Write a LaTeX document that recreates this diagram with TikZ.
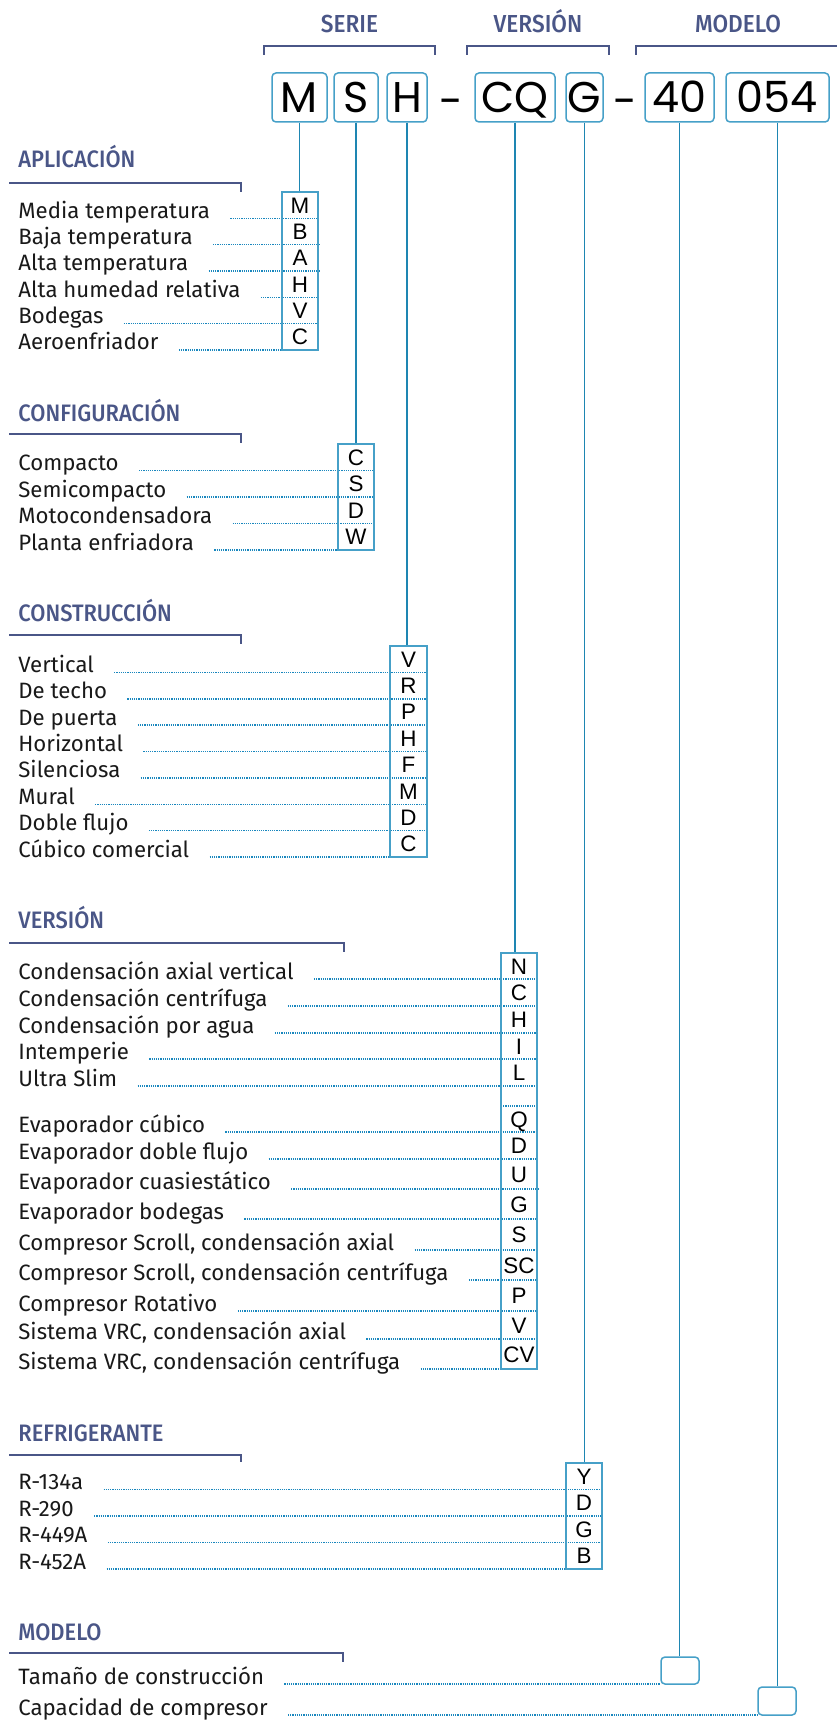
\documentclass[tikz,border=0pt]{standalone}
\usepackage{fontspec}
\usetikzlibrary{fit}
\setmainfont{Fira Sans}
\newfontfamily\ttlfont{Fira Sans Medium}[FakeStretch=0.92]
\newfontfamily\itmfont{Fira Sans}
\newfontfamily\letfont{Liberation Sans}
\newfontfamily\bigfont{Poppins}
\definecolor{ttlc}{RGB}{74,86,135}
\definecolor{connc}{RGB}{30,134,178}
\definecolor{boxc}{RGB}{70,160,200}
\definecolor{dotc}{RGB}{25,135,190}
\definecolor{txtc}{RGB}{25,25,25}
\pgfdeclarelayer{back}
\pgfdeclarelayer{bg}
\pgfsetlayers{back,bg,main}
\tikzset{
  toptl/.style={font=\ttlfont\fontsize{12.3pt}{14pt}\selectfont, text=ttlc, inner sep=0pt, anchor=base},
  ttl/.style={font=\ttlfont\fontsize{11.9pt}{13pt}\selectfont, text=ttlc, inner sep=0pt, anchor=base west},
  itm/.style={font=\itmfont\fontsize{11.1pt}{12pt}\selectfont, text=txtc, inner sep=0pt, anchor=base west},
  ltr/.style={font=\letfont\fontsize{11.2pt}{12pt}\selectfont, inner sep=0pt, text height=8pt, text depth=0pt},
  big/.style={draw=boxc, line width=0.75pt, rounded corners=2pt, font=\bigfont\fontsize{21.5pt}{24pt}\selectfont, minimum height=24.5pt, inner sep=0pt, text height=15pt, text depth=0pt},
  dashn/.style={font=\bigfont\fontsize{21.5pt}{24pt}\selectfont, inner sep=0pt, anchor=base},
  sbox/.style={draw=boxc, line width=0.75pt, inner sep=0pt},
  mbox/.style={draw=boxc, line width=0.75pt, inner sep=0pt, rounded corners=2pt},
  conn/.style={draw=connc, line width=0.75pt},
  dots/.style={draw=dotc, line width=0.7pt, dash pattern=on 0.6pt off 0.5pt},
  uline/.style={draw=ttlc, line width=1pt},
}
\begin{document}
\begin{tikzpicture}[x=0.5pt,y=-0.5pt]
\begin{pgfonlayer}{back}
\fill[white] (0,0) rectangle (837,1722);
\end{pgfonlayer}
\useasboundingbox (0,0) rectangle (837,1722);

% ---------- top code ----------
\node[toptl] (tSerie) at (349.5,32.5) {SERIE};
\node[toptl] (tVer) at (538,32.5) {VERSIÓN};
\node[toptl] (tMod) at (738,32.5) {MODELO};
\draw[uline] (264,55) -- (264,46.5) -- (435,46.5) -- (435,55);
\draw[uline] (467,55) -- (467,46.5) -- (609,46.5) -- (609,55);
\draw[uline] (636,55) -- (636,46.5) -- (837,46.5);

\node[big, minimum width=27.5pt] (kM) at (299.5,97.5) {M};
\node[big, minimum width=22pt] (kS) at (356,97.5) {S};
\node[big, minimum width=20pt] (kH) at (407,97.5) {H};
\node[dashn] (d1) at (451,117) {-};
\node[big, minimum width=40pt] (kCQ) at (515,97.5) {CQ};
\node[big, minimum width=18.5pt] (kG) at (584.5,97.5) {G};
\node[dashn] (d2) at (625,117) {-};
\node[big, minimum width=34.5pt] (k40) at (679.5,97.5) {40};
\node[big, minimum width=51.5pt] (k054) at (777.5,97.5) {054};

% ---------- APLICACION ----------
\node[ttl] (sA) at (18,168) {APLICACIÓN};
\draw[uline] (9,183) -- (241,183) -- (241,192);
\coordinate (a1) at (282,192); \coordinate (a2) at (318,350);
\node[sbox, fit=(a1)(a2)] (bA) {};
\foreach \t/\l/\a/\b [count=\i] in {Media temperatura/M/192/218.3, Baja temperatura/B/218.3/244.7, Alta temperatura/A/244.7/271, Alta humedad relativa/H/271/297.3, Bodegas/V/297.3/323.7, Aeroenfriador/C/323.7/350}{
  \node[itm] (A\i) at (18,\b) {\t};
  \node[ltr] (AL\i) at (300,{(\a+\b)/2}) {\l};
  \begin{pgfonlayer}{bg}\draw[dots] ([xshift=10pt]A\i.base east) -- (bA.east |- A\i.base);\end{pgfonlayer}
}
\draw[conn] (kM.south) -- (kM.south |- bA.north);

% ---------- CONFIGURACION ----------
\node[ttl] (sB) at (18,421) {CONFIGURACIÓN};
\draw[uline] (9,434) -- (241,434) -- (241,443);
\coordinate (b1) at (338,444); \coordinate (b2) at (374,550);
\node[sbox, fit=(b1)(b2)] (bB) {};
\foreach \t/\l/\a/\b [count=\i] in {Compacto/C/444/470.5, Semicompacto/S/470.5/497, Motocondensadora/D/497/523.5, Planta enfriadora/W/523.5/550}{
  \node[itm] (B\i) at (18,\b) {\t};
  \node[ltr] (BL\i) at (356,{(\a+\b)/2}) {\l};
  \begin{pgfonlayer}{bg}\draw[dots] ([xshift=10pt]B\i.base east) -- (bB.east |- B\i.base);\end{pgfonlayer}
}
\draw[conn] (kS.south) -- (kS.south |- bB.north);

% ---------- CONSTRUCCION ----------
\node[ttl] (sC) at (18,621) {CONSTRUCCIÓN};
\draw[uline] (9,635) -- (241,635) -- (241,644);
\coordinate (c1) at (390,646); \coordinate (c2) at (427,857);
\node[sbox, fit=(c1)(c2)] (bC) {};
\foreach \t/\l/\a/\b [count=\i] in {Vertical/V/646/672.4, De techo/R/672.4/698.8, De puerta/P/698.8/725.1, Horizontal/H/725.1/751.5, Silenciosa/F/751.5/777.9, Mural/M/777.9/804.3, Doble flujo/D/804.3/830.6, Cúbico comercial/C/830.6/857}{
  \node[itm] (C\i) at (18,\b) {\t};
  \node[ltr] (CL\i) at (408.5,{(\a+\b)/2}) {\l};
  \begin{pgfonlayer}{bg}\draw[dots] ([xshift=10pt]C\i.base east) -- (bC.east |- C\i.base);\end{pgfonlayer}
}
\draw[conn] (kH.south) -- (kH.south |- bC.north);

% ---------- VERSION ----------
\node[ttl] (sD) at (18,928) {VERSIÓN};
\draw[uline] (9,943) -- (344,943) -- (344,952);
\coordinate (v1) at (501,953); \coordinate (v2) at (537,1369);
\node[sbox, fit=(v1)(v2)] (bD) {};
\foreach \t/\l/\a/\b [count=\i] in {Condensación axial vertical/N/953/979, Condensación centrífuga/C/979/1006, Condensación por agua/H/1006/1033, Intemperie/I/1033/1059, Ultra Slim/L/1059/1086, Evaporador cúbico/Q/1106/1132, Evaporador doble flujo/D/1132/1159, Evaporador cuasiestático/U/1159/1189, Evaporador bodegas/G/1189/1219, {Compresor Scroll, condensación axial}/S/1219/1250, {Compresor Scroll, condensación centrífuga}/SC/1250/1280, Compresor Rotativo/P/1280/1311, {Sistema VRC, condensación axial}/V/1311/1339, {Sistema VRC, condensación centrífuga}/CV/1339/1369}{
  \node[itm] (D\i) at (18,\b) {\t};
  \node[ltr] (DL\i) at (519,{(\a+\b)/2}) {\l};
  \begin{pgfonlayer}{bg}\draw[dots] ([xshift=10pt]D\i.base east) -- (bD.east |- D\i.base);\end{pgfonlayer}
}
\coordinate (vblank) at (501,1106);
\begin{pgfonlayer}{bg}\draw[dots] (vblank) -- (bD.east |- vblank);\end{pgfonlayer}
\draw[conn] (kCQ.south) -- (kCQ.south |- bD.north);

% ---------- REFRIGERANTE ----------
\node[ttl] (sE) at (18,1441) {REFRIGERANTE};
\draw[uline] (9,1455) -- (241,1455) -- (241,1462);
\coordinate (e1) at (566,1463); \coordinate (e2) at (602,1569);
\node[sbox, fit=(e1)(e2)] (bE) {};
\foreach \t/\l/\a/\b [count=\i] in {R-134a/Y/1463/1489.5, R-290/D/1489.5/1516, R-449A/G/1516/1542.5, R-452A/B/1542.5/1569}{
  \node[itm] (E\i) at (18,\b) {\t};
  \node[ltr] (EL\i) at (584,{(\a+\b)/2}) {\l};
  \begin{pgfonlayer}{bg}\draw[dots] ([xshift=10pt]E\i.base east) -- (bE.east |- E\i.base);\end{pgfonlayer}
}
\draw[conn] (kG.south) -- (kG.south |- bE.north);

% ---------- MODELO ----------
\node[ttl] (sF) at (18,1640) {MODELO};
\draw[uline] (9,1653) -- (343,1653) -- (343,1662);
\coordinate (f1) at (661,1657); \coordinate (f2) at (699,1684);
\node[mbox, fit=(f1)(f2)] (bF1) {};
\coordinate (g1) at (758,1687); \coordinate (g2) at (796,1715);
\node[mbox, fit=(g1)(g2)] (bF2) {};
\node[itm] (F1) at (18,1684) {Tamaño de construcción};
\node[itm] (F2) at (18,1715) {Capacidad de compresor};
\begin{pgfonlayer}{bg}
\draw[dots] ([xshift=10pt]F1.base east) -- (bF1.west |- F1.base);
\draw[dots] ([xshift=10pt]F2.base east) -- (bF2.west |- F2.base);
\end{pgfonlayer}
\draw[conn] (k40.south) -- (k40.south |- bF1.north);
\draw[conn] (k054.south) -- (k054.south |- bF2.north);
\end{tikzpicture}
\end{document}
